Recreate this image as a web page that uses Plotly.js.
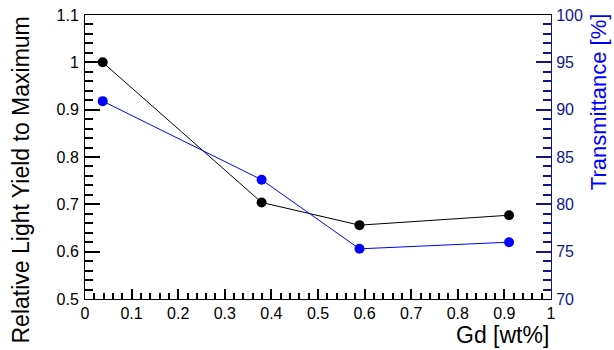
<!DOCTYPE html>
<html>
<head>
<meta charset="utf-8">
<script src="https://cdn.plot.ly/plotly-3.0.1.min.js"></script>
<style>html,body{margin:0;padding:0;background:#fff;}#chart{width:614px;height:350px;}</style>
</head>
<body>
<div id="chart"></div>
<script>
// Data
const gdWtPct = [0.038, 0.379, 0.589, 0.910];
const relativeLightYield = [1.0, 0.704, 0.656, 0.677];
const transmittancePct = [90.9, 82.6, 75.3, 76.0];

const xTitle = "Gd [wt%]";
const yTitle = "Relative Light Yield to Maximum";
const y2Title = "Transmittance [%]";

const FONT = '"Liberation Sans", Arial, Helvetica, sans-serif';
const NAVY = '#14148c';
const BLUE = '#0000ff';

const traces = [
  {
    x: gdWtPct, y: relativeLightYield, type: 'scatter', mode: 'lines+markers',
    line: {color: '#000000', width: 1},
    marker: {color: '#000000', size: 10, symbol: 'circle'},
    xaxis: 'x', yaxis: 'y', showlegend: false, hoverinfo: 'skip'
  },
  {
    x: gdWtPct, y: transmittancePct, type: 'scatter', mode: 'lines+markers',
    line: {color: BLUE, width: 1},
    marker: {color: BLUE, size: 10, symbol: 'circle'},
    xaxis: 'x', yaxis: 'y2', showlegend: false, hoverinfo: 'skip'
  }
];

const layout = {
  width: 614, height: 350,
  margin: {l: 85, r: 63, t: 15, b: 51, pad: 0},
  paper_bgcolor: '#ffffff', plot_bgcolor: 'rgba(0,0,0,0)',
  font: {family: FONT, size: 16, color: '#000000'},
  xaxis: {
    range: [0, 1], dtick: 0.1, tick0: 0,
    showgrid: false, zeroline: false, layer: 'above traces',
    showline: true, linecolor: '#000000', linewidth: 1, mirror: true,
    ticks: 'inside', ticklen: 10, tickcolor: '#000000', tickwidth: 2,
    minor: {dtick: 0.02, tick0: 0, ticks: 'inside', ticklen: 6, tickcolor: '#000000', tickwidth: 2, showgrid: false},
    tickfont: {family: FONT, size: 16, color: '#000000'},
    tickangle: 0
  },
  yaxis: {
    range: [0.5, 1.1], dtick: 0.1, tick0: 0.5,
    showgrid: false, zeroline: false, layer: 'above traces',
    showline: true, linecolor: '#000000', linewidth: 1,
    ticks: 'inside', ticklen: 15, tickcolor: '#000000', tickwidth: 2,
    minor: {dtick: 0.02, tick0: 0.5, ticks: 'inside', ticklen: 8, tickcolor: '#000000', tickwidth: 2, showgrid: false},
    tickfont: {family: FONT, size: 16, color: '#000000'},
    ticklabelstandoff: 2
  },
  yaxis2: {
    overlaying: 'y', side: 'right', anchor: 'x',
    range: [70, 100], dtick: 5, tick0: 70,
    showgrid: false, zeroline: false, layer: 'above traces',
    showline: true, linecolor: NAVY, linewidth: 1,
    ticks: 'inside', ticklen: 15, tickcolor: NAVY, tickwidth: 2,
    minor: {dtick: 1, tick0: 70, ticks: 'inside', ticklen: 8, tickcolor: NAVY, tickwidth: 2, showgrid: false},
    tickfont: {family: FONT, size: 16, color: NAVY},
    ticklabelstandoff: 1
  },
  annotations: [
    {text: xTitle, xref: 'paper', yref: 'paper', x: 1, y: (299 - 320) / 284,
     xanchor: 'right', yanchor: 'top', showarrow: false,
     font: {family: FONT, size: 23, color: '#000000'}},
    {text: yTitle, xref: 'paper', yref: 'paper', x: (20 - 85) / 466, y: 1,
     xanchor: 'center', yanchor: 'top', textangle: -90, showarrow: false,
     font: {family: FONT, size: 23, color: '#000000'}},
    {text: y2Title, xref: 'paper', yref: 'paper', x: (598 - 85) / 466, y: 1.01,
     xanchor: 'center', yanchor: 'top', textangle: -90, showarrow: false,
     font: {family: FONT, size: 22, color: BLUE}}
  ]
};

Plotly.newPlot('chart', traces, layout, {staticPlot: true, displayModeBar: false});
</script>
</body>
</html>
